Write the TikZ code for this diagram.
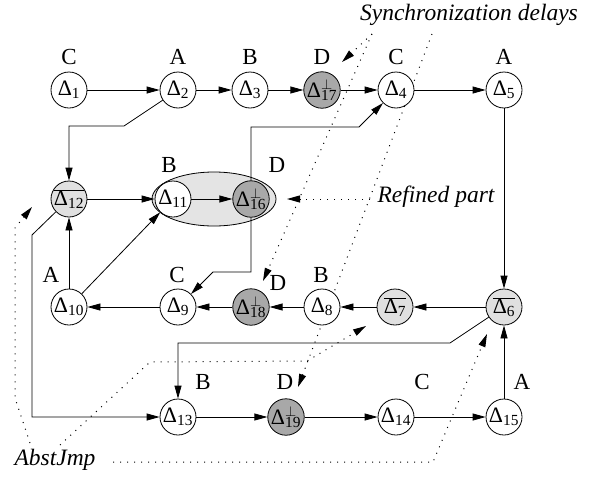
\documentclass[tikz,border=0pt]{standalone}
\usepackage{fontspec}
\setmainfont{Liberation Serif}
\usetikzlibrary{arrows.meta,shapes.geometric}
\definecolor{dgray}{RGB}{168,168,168}
\definecolor{lgray}{RGB}{224,224,224}
\definecolor{egray}{RGB}{228,228,228}
\newcommand\dl[1]{Δ\textsubscript{#1}}
\newcommand\dperp[1]{Δ\rlap{\textsuperscript{$\perp$}}\textsubscript{#1}}
\newcommand\dbar[1]{$\overline{\hbox{Δ\textsubscript{#1}}}$}
\tikzset{
  nw/.style={circle, draw, line width=0.8pt, minimum size=36pt, inner sep=0pt, fill=white, font=\fontsize{22}{24}\selectfont},
  ndark/.style={nw, fill=dgray},
  nlight/.style={nw, fill=lgray},
  lab/.style={inner sep=0pt, font=\fontsize{23}{25}\selectfont},
  note/.style={inner sep=0pt, font=\fontsize{23.5}{25}\selectfont\itshape},
  arr/.style={line width=0.8pt, -{Triangle[length=13pt,width=7pt]}},
  dotarr/.style={line width=1pt, dash pattern=on 1pt off 6pt, -{Triangle[length=13pt,width=7pt]}},
}
\begin{document}
\begin{tikzpicture}[x=1pt,y=-1pt]
\useasboundingbox (0,0) rectangle (603,477);
% notes
\node[note] (sync) at (469,15) {Synchronization delays};
\node[note] (ref) at (436,197) {Refined part};
\node[note] (abst) at (55,460) {AbstJmp};
% dotted pointers
\coordinate (s1) at (372,34);
\coordinate (s2) at (432,34);
\draw[dotarr] (s1) -- (342,62);
\draw[dotarr] (s1) -- (263,281);
\draw[dotarr] (s2) -- (298,387);
\draw[dotarr] (370,199) -- (287,199);
\draw[dotarr] (30,443) -- (15,398) -- (15,228) -- (32,207);
\draw[dotarr] (60,445) -- (150,362) -- (307,361) -- (366,326);
\draw[dotarr] (113,462) -- (433,462) -- (487,334);
% refined ellipse
\node[ellipse, draw, line width=0.8pt, fill=egray, minimum width=124pt, minimum height=54pt] (ell) at (214,199) {};
% nodes
\node[nw] (d1) at (69,90) {\dl{1}};
\node[nw] (d2) at (178,90) {\dl{2}};
\node[nw] (d3) at (250,90) {\dl{3}};
\node[ndark] (d17) at (322,90) {\dperp{17}};
\node[nw] (d4) at (396,90) {\dl{4}};
\node[nw] (d5) at (504,90) {\dl{5}};
\node[nlight] (d12) at (69,199) {\dbar{12}};
\node[nw] (d11) at (173,199) {\dl{11}};
\node[ndark] (d16) at (251,199) {\dperp{16}};
\node[nw] (d10) at (69,307) {\dl{10}};
\node[nw] (d9) at (178,307) {\dl{9}};
\node[ndark] (d18) at (251,307) {\dperp{18}};
\node[nw] (d8) at (322,307) {\dl{8}};
\node[nlight] (d7) at (395,307) {\dbar{7}};
\node[nlight] (d6) at (504,307) {\dbar{6}};
\node[nw] (d13) at (178,417) {\dl{13}};
\node[ndark] (d19) at (286,417) {\dperp{19}};
\node[nw] (d14) at (396,417) {\dl{14}};
\node[nw] (d15) at (504,417) {\dl{15}};
% labels
\node[lab] (l1) at (69,57) {C};
\node[lab] (l2) at (178,57) {A};
\node[lab] (l3) at (250,57) {B};
\node[lab] (l17) at (322,57) {D};
\node[lab] (l4) at (396,57) {C};
\node[lab] (l5) at (504,57) {A};
\node[lab] (l11) at (169,165) {B};
\node[lab] (l16) at (277,165) {D};
\node[lab] (l10) at (51,275) {A};
\node[lab] (l9) at (177,275) {C};
\node[lab] (l18) at (278,283) {D};
\node[lab] (l8) at (321,275) {B};
\node[lab] (l13) at (203,382) {B};
\node[lab] (l19) at (285,382) {D};
\node[lab] (l14) at (422,382) {C};
\node[lab] (l15) at (522,382) {A};
% connectors
\draw[arr] (d1) -- (d2);
\draw[arr] (d2) -- (d3);
\draw[arr] (d3) -- (d17);
\draw[arr] (d17) -- (d4);
\draw[arr] (d4) -- (d5);
\draw[arr] (d5) -- (d6);
\draw[arr] (d2) -- (124,126) -- (69,126) -- (d12);
\draw[arr] (d12) -- (d11);
\draw[arr] (d11) -- (d16);
\draw[arr] (d16) -- (251,127) -- (359,127) -- (d4);
\draw[arr] (d16) -- (251,272) -- (213,272) -- (d9);
\draw[arr] (d10) -- (d12);
\draw[arr] (d10) -- (d11);
\draw[arr] (d9) -- (d10);
\draw[arr] (d18) -- (d9);
\draw[arr] (d8) -- (d18);
\draw[arr] (d7) -- (d8);
\draw[arr] (d6) -- (d7);
\draw[arr] (d12) -- (32,235) -- (32,417) -- (d13);
\draw[arr] (d6) -- (450,343) -- (178,343) -- (d13);
\draw[arr] (d13) -- (d19);
\draw[arr] (d19) -- (d14);
\draw[arr] (d14) -- (d15);
\draw[arr] (d15) -- (d6);
\end{tikzpicture}
\end{document}
